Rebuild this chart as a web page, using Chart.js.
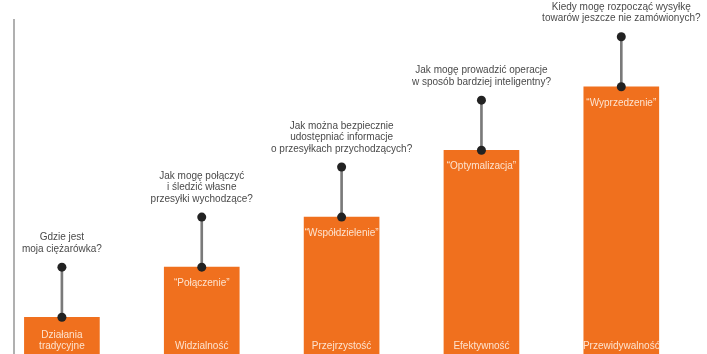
<!DOCTYPE html>
<html>
<head>
<meta charset="utf-8">
<script src="https://cdn.jsdelivr.net/npm/chart.js@4"></script>
<style>
  html, body { margin: 0; padding: 0; background: #ffffff; overflow: hidden; }
  #wrap { width: 707px; height: 354px; position: relative; }
</style>
</head>
<body>
<div id="wrap"><canvas id="c"></canvas></div>
<script>
// ---- data ----
const categories = [["Działania", "tradycyjne"], ["Widzialność"], ["Przejrzystość"], ["Efektywność"], ["Przewidywalność"]];
const stageNames = ["", "“Połączenie”", "“Współdzielenie”", "“Optymalizacja”", "“Wyprzedzenie”"];
const questions = [
  ["Gdzie jest", "moja ciężarówka?"],
  ["Jak mogę połączyć", "i śledzić własne", "przesyłki wychodzące?"],
  ["Jak można bezpiecznie", "udostępniać informacje", "o przesyłkach przychodzących?"],
  ["Jak mogę prowadzić operacje", "w sposób bardziej inteligentny?"],
  ["Kiedy mogę rozpocząć wysyłkę", "towarów jeszcze nie zamówionych?"]
];
const maturityValues = [11, 26, 41, 61, 80];
const questionLevels = [26, 41, 56, 76, 95];

// ---- styles ----
const ORANGE = '#F0701E';
const FONT = '"Liberation Sans", Arial, sans-serif';

const barData = maturityValues.map((v, i) => ({ x: i, y: v }));
const stemData = maturityValues.map((v, i) => ({ x: i, y: [v, questionLevels[i]] }));
const baseDots = maturityValues.map((v, i) => ({ x: i, y: v }));
const topDots = questionLevels.map((v, i) => ({ x: i, y: v }));

const labelsPlugin = {
  id: 'labels',
  afterDatasetsDraw(chart) {
    const ctx = chart.ctx;
    const xs = chart.scales.x, ys = chart.scales.y;
    ctx.save();
    ctx.textAlign = 'center';
    ctx.textBaseline = 'middle';
    ctx.font = '10px ' + FONT;
    for (let i = 0; i < categories.length; i++) {
      const cx = xs.getPixelForValue(i);
      const dotY = ys.getPixelForValue(questionLevels[i]);
      const q = questions[i];
      ctx.fillStyle = '#4a4a4a';
      const lh = 11.5;
      for (let k = 0; k < q.length; k++) {
        const y = dotY - 18 - (q.length - 1 - k) * lh;
        ctx.fillText(q[k], cx, y);
      }
      const topY = ys.getPixelForValue(maturityValues[i]);
      ctx.fillStyle = '#fde3cf';
      if (stageNames[i]) ctx.fillText(stageNames[i], cx, topY + 16);
      const cat = categories[i];
      const bottom = ys.getPixelForValue(0);
      for (let k = 0; k < cat.length; k++) {
        const y = bottom - 8 - (cat.length - 1 - k) * 11;
        ctx.fillText(cat[k], cx, y);
      }
    }
    ctx.restore();
  }
};

new Chart(document.getElementById('c'), {
  type: 'bar',
  data: {
    datasets: [
      { type: 'scatter', data: topDots, pointRadius: 4.5, pointBackgroundColor: '#222222', pointBorderWidth: 0, showLine: false, order: 1 },
      { type: 'scatter', data: baseDots, pointRadius: 4.5, pointBackgroundColor: '#222222', pointBorderWidth: 0, showLine: false, order: 1 },
      { type: 'bar', data: stemData, backgroundColor: '#7a7a7a', barThickness: 2, grouped: false, order: 2 },
      { type: 'bar', data: barData, backgroundColor: ORANGE, barThickness: 75, grouped: false, order: 3 }
    ]
  },
  options: {
    responsive: true,
    maintainAspectRatio: false,
    animation: false,
    layout: { autoPadding: false, padding: { left: 14, top: 20, right: 0, bottom: 0 } },
    plugins: { legend: { display: false }, tooltip: { enabled: false } },
    scales: {
      x: { type: 'linear', display: false, offset: false, min: -0.3425, max: 4.6128 },
      y: {
        display: true, min: 0, max: 100,
        ticks: { display: false },
        grid: { display: false, drawTicks: false },
        border: { display: true, color: '#b0b0b0', width: 2 },
        afterFit(scale) { scale.width = 0; }
      }
    }
  },
  plugins: [labelsPlugin]
});
</script>
</body>
</html>
